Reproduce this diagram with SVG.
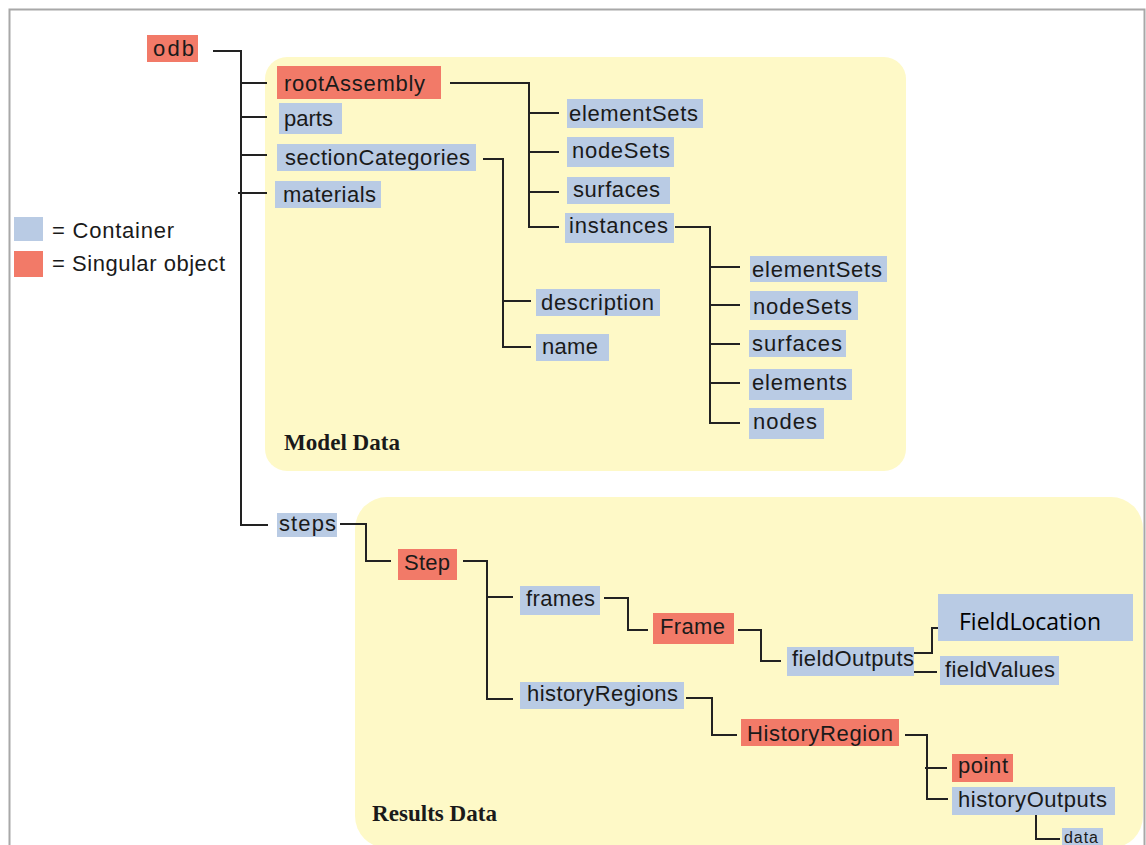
<svg xmlns="http://www.w3.org/2000/svg" width="1146" height="845" viewBox="0 0 1146 845">
<style>
.c{fill:#b9cbe4}
.s{fill:#f27a68}
.t{font-family:"Liberation Sans",Arial,sans-serif;font-size:22px;fill:#1a1a1a}
.p{fill:#fef9c7}
.h{font-family:"Liberation Serif","Times New Roman",serif;font-weight:bold;font-size:24px;fill:#1a1a1a}
.k{fill:none;stroke:#222;stroke-width:2}
</style>
<rect x="9.5" y="9.5" width="1135" height="850" fill="#fff" stroke="#a8a8a8" stroke-width="2"/>
<g id="panel-model"><rect class="p" x="265" y="57" width="641" height="414" rx="22"/><text class="h" x="284" y="450" textLength="116" lengthAdjust="spacingAndGlyphs">Model Data</text></g>
<g id="panel-results"><rect class="p" x="355" y="497" width="788" height="351" rx="32"/><text class="h" x="372" y="821" textLength="125" lengthAdjust="spacingAndGlyphs">Results Data</text></g>
<g id="legend">
<rect class="c" x="14" y="217" width="29" height="24"/><text class="t" x="52" y="238" textLength="122">= Container</text>
<rect class="s" x="14" y="251" width="29" height="26"/><text class="t" x="52" y="271" textLength="173">= Singular object</text>
</g>
<g id="connectors">
<path class="k" d="M213,51H241V525H268M241,83H267M241,117H267M241,155H267M238,193H267"/>
<path class="k" d="M450,83H529V227H559M529,113H559M529,152H559M529,192H559"/>
<path class="k" d="M675,227H710V423H740M710,267H740M710,305H740M710,344H740M710,383H740"/>
<path class="k" d="M483,159H503V347H531M503,301H531"/>
<path class="k" d="M340,524H366V561H391"/>
<path class="k" d="M463,561H487V699H513M487,597H513"/>
<path class="k" d="M604,598H628V630H648"/>
<path class="k" d="M738,630H761V661H781"/>
<path class="k" d="M913,653H932V628H948" stroke="#000" stroke-width="2.5"/>
<path class="k" d="M914,672H937"/>
<path class="k" d="M686,698H712V735H737"/>
<path class="k" d="M905,735H927V799H948M925,768H947"/>
<path class="k" d="M1036,815V839H1060"/>
</g>
<g id="odb"><rect class="s" x="147" y="35" width="51" height="27"/><text class="t" x="153" y="56" textLength="41">odb</text></g>
<g id="rootAssembly"><rect class="s" x="277" y="66" width="164" height="33"/><text class="t" x="284" y="91" textLength="141">rootAssembly</text></g>
<g id="parts"><rect class="c" x="279" y="103" width="63" height="31"/><text class="t" x="284" y="126" textLength="49">parts</text></g>
<g id="sectionCategories"><rect class="c" x="277" y="144" width="199" height="27"/><text class="t" x="285" y="165" textLength="185">sectionCategories</text></g>
<g id="materials"><rect class="c" x="275" y="181" width="106" height="27"/><text class="t" x="283" y="202" textLength="93">materials</text></g>
<g id="elementSets"><rect class="c" x="567" y="99" width="136" height="29"/><text class="t" x="569" y="121" textLength="129">elementSets</text></g>
<g id="nodeSets"><rect class="c" x="567" y="137" width="107" height="30"/><text class="t" x="572" y="158" textLength="98">nodeSets</text></g>
<g id="surfaces"><rect class="c" x="567" y="177" width="103" height="27"/><text class="t" x="573" y="197" textLength="87">surfaces</text></g>
<g id="instances"><rect class="c" x="565" y="213" width="109" height="30"/><text class="t" x="569" y="233" textLength="99">instances</text></g>
<g id="instElementSets"><rect class="c" x="750" y="256" width="137" height="26"/><text class="t" x="752" y="277" textLength="130">elementSets</text></g>
<g id="instNodeSets"><rect class="c" x="750" y="291" width="108" height="29"/><text class="t" x="753" y="314" textLength="99">nodeSets</text></g>
<g id="instSurfaces"><rect class="c" x="749" y="330" width="97" height="27"/><text class="t" x="752" y="351" textLength="90">surfaces</text></g>
<g id="elements"><rect class="c" x="749" y="369" width="103" height="31"/><text class="t" x="752" y="390" textLength="95">elements</text></g>
<g id="nodes"><rect class="c" x="749" y="408" width="75" height="31"/><text class="t" x="753" y="429" textLength="64">nodes</text></g>
<g id="description"><rect class="c" x="536" y="289" width="124" height="27"/><text class="t" x="541" y="310" textLength="113">description</text></g>
<g id="name"><rect class="c" x="536" y="334" width="73" height="27"/><text class="t" x="542" y="354" textLength="56">name</text></g>
<g id="steps"><rect class="c" x="277" y="513" width="60" height="24"/><text class="t" x="279" y="531" textLength="57">steps</text></g>
<g id="Step"><rect class="s" x="398" y="549" width="59" height="31"/><text class="t" x="404" y="570" textLength="46">Step</text></g>
<g id="frames"><rect class="c" x="520" y="586" width="80" height="29"/><text class="t" x="526" y="606" textLength="69">frames</text></g>
<g id="historyRegions"><rect class="c" x="520" y="682" width="164" height="27"/><text class="t" x="527" y="701" textLength="151">historyRegions</text></g>
<g id="Frame"><rect class="s" x="653" y="613" width="81" height="31"/><text class="t" x="660" y="634" textLength="65">Frame</text></g>
<g id="fieldOutputs"><rect class="c" x="787" y="647" width="127" height="29"/><text class="t" x="792" y="666" textLength="122">fieldOutputs</text></g>
<g id="FieldLocation"><rect class="c" x="938" y="594" width="195" height="47"/><text x="959" y="630" textLength="142" font-family="'Open Sans','Noto Sans',sans-serif" font-size="23" fill="#000">FieldLocation</text></g>
<g id="fieldValues"><rect class="c" x="940" y="656" width="119" height="29"/><text class="t" x="945" y="677" textLength="110">fieldValues</text></g>
<g id="HistoryRegion"><rect class="s" x="741" y="719" width="158" height="27"/><text class="t" x="747" y="741" textLength="146">HistoryRegion</text></g>
<g id="point"><rect class="s" x="952" y="754" width="61" height="28"/><text class="t" x="958" y="773" textLength="50">point</text></g>
<g id="historyOutputs"><rect class="c" x="952" y="787" width="163" height="28"/><text class="t" x="958" y="807" textLength="149">historyOutputs</text></g>
<g id="data"><rect class="c" x="1062" y="828" width="41" height="20"/><text class="t" x="1064" y="843" textLength="34" style="font-size:16px">data</text></g>
</svg>
